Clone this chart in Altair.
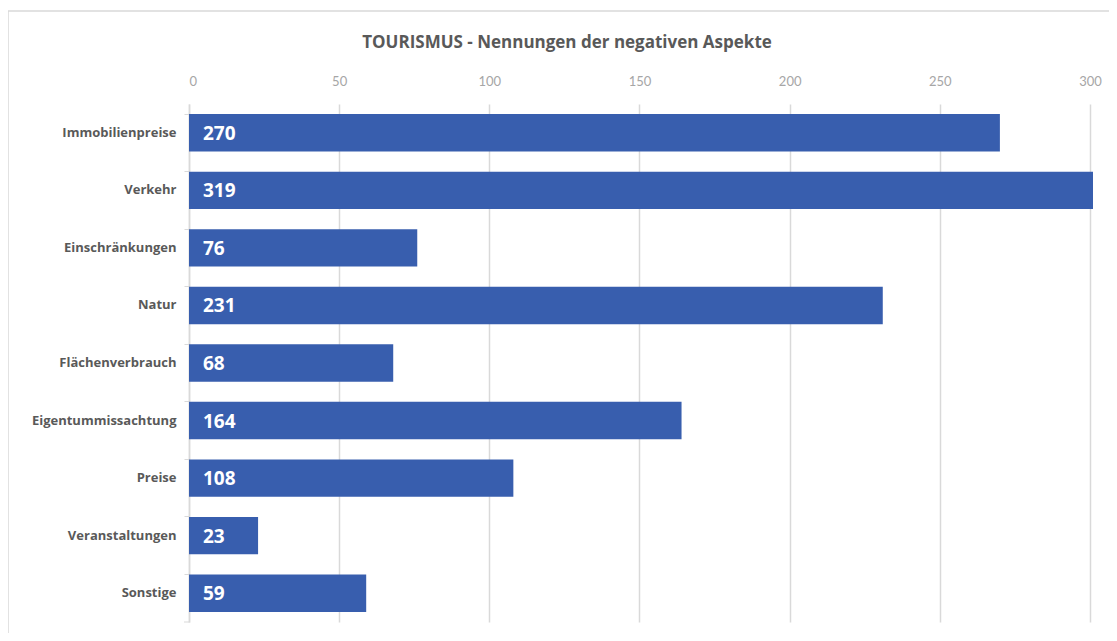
import altair as alt
import pandas as pd

categories = ["Immobilienpreise", "Verkehr", "Einschränkungen", "Natur", "Flächenverbrauch",
              "Eigentummissachtung", "Preise", "Veranstaltungen", "Sonstige"]
values = [270, 319, 76, 231, 68, 164, 108, 23, 59]
x_ticks = [0, 50, 100, 150, 200, 250, 300]
title_text = "TOURISMUS - Nennungen der negativen Aspekte"

FONT = "Lato"
FONT2 = "Open Sans"
df = pd.DataFrame({"cat": categories, "val": values})

y_enc = alt.Y("cat:N", sort=categories, title=None,
              scale=alt.Scale(paddingInner=0.35, paddingOuter=0.175),
              axis=alt.Axis(bandPosition=0, ticks=True, tickSize=5, tickColor="#D9D9D9",
                            domain=True, domainColor="#D9D9D9", domainWidth=1.5,
                            labelFont=FONT2, labelFontSize=13, labelFontWeight="bold",
                            labelColor="#595959", labelPadding=8, grid=False))
x_enc = alt.X("val:Q", title=None,
              scale=alt.Scale(domain=[0, 301], nice=False, zero=True),
              axis=alt.Axis(orient="top", values=x_ticks, domain=False, ticks=False,
                            grid=True, gridColor="#D9D9D9", gridWidth=1.5,
                            labelFont=FONT, labelFontSize=13, labelColor="#A6A6A6",
                            labelPadding=16))

bars = alt.Chart(df).mark_bar(color="#385EAE", clip=True).encode(x=x_enc, y=y_enc)

labels = alt.Chart(df).mark_text(align="left", baseline="middle", dx=14, dy=1,
                                 color="white", font=FONT2, fontSize=19,
                                 fontWeight="bold").encode(
    x=alt.datum(0), y=alt.Y("cat:N", sort=categories), text="val:Q")

bottom_tick = alt.Chart(df.head(1)).mark_rule(color="#D9D9D9", strokeWidth=1).encode(
    x=alt.value(-5), x2=alt.value(0), y=alt.value(518))

title = alt.Chart(pd.DataFrame({"t": [title_text]})).mark_text(
    font=FONT2, fontSize=17, fontWeight="bold", color="#595959",
    align="center", baseline="middle").encode(
    x=alt.value(378), y=alt.value(-61), text="t:N")

border = alt.Chart(df.head(1)).mark_rect(fill=None, stroke="#D9D9D9", strokeWidth=1.5,
                                         clip=False).encode(
    x=alt.value(-181), x2=alt.value(960), y=alt.value(-93), y2=alt.value(560))

chart = alt.layer(border, bars, labels, bottom_tick, title).properties(
    width=904, height=518,
    autosize=alt.AutoSizeParams(type="none"),
    padding={"left": 181, "top": 96, "right": 16, "bottom": 11},
    background="white",
).configure_view(stroke=None)

chart.save("out.html", embed_options={"renderer": "svg", "actions": False})
